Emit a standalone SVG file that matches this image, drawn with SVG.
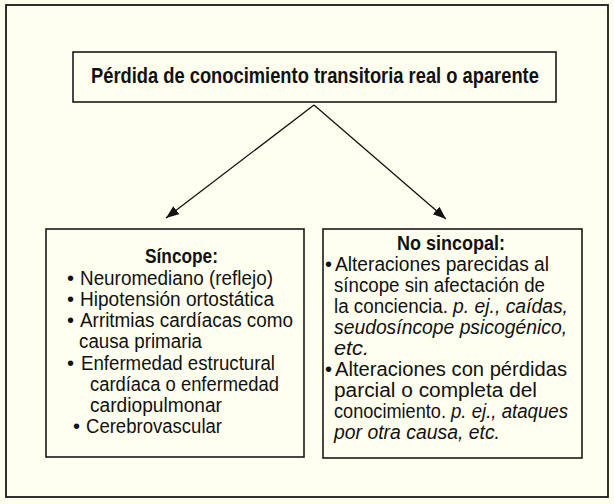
<svg xmlns="http://www.w3.org/2000/svg" width="614" height="504" viewBox="0 0 614 504">
<style>
  .box { fill: #FFFFF0; stroke: #1a1a1a; stroke-width: 1.6; }
  .t { font-family: "Liberation Sans", Arial, sans-serif; font-size: 20px; fill: #111; }
  .b { font-family: "Liberation Sans", Arial, sans-serif; font-weight: bold; fill: #111; }
  .i { font-style: italic; }
  .conn { stroke: #111; stroke-width: 1.3; fill: none; }
</style>
<defs>
  <marker id="arr" markerUnits="userSpaceOnUse" markerWidth="14" markerHeight="12" refX="13" refY="5" orient="auto">
    <path d="M0,0 L13,5 L0,10 Z" fill="#111"/>
  </marker>
</defs>
<rect x="0" y="0" width="614" height="504" fill="#FFFFF0"/>
<rect x="6" y="5" width="602" height="492" fill="none" stroke="#1a1a1a" stroke-width="1.8"/>

<g id="connectors">
  <path class="conn" d="M314,105 L166,218" marker-end="url(#arr)"/>
  <path class="conn" d="M314,105 L446,219" marker-end="url(#arr)"/>
</g>

<g id="root">
  <rect class="box" x="73" y="52" width="483" height="50"/>
  <text class="b" transform="translate(91,83) scale(0.797,1)" x="0" y="0" font-size="23" textLength="562" lengthAdjust="spacingAndGlyphs">Pérdida de conocimiento transitoria real o aparente</text>
</g>

<g id="sincope">
  <rect class="box" x="46" y="229" width="258" height="228"/>
  <text class="b" x="145" y="263" font-size="20.5" textLength="73" lengthAdjust="spacingAndGlyphs">Síncope:</text>
  <text class="t" x="67" y="284.5">•</text>
  <text class="t" x="80" y="284.5" textLength="193" lengthAdjust="spacingAndGlyphs">Neuromediano (reflejo)</text>
  <text class="t" x="67" y="305.5">•</text>
  <text class="t" x="80" y="305.5" textLength="194" lengthAdjust="spacingAndGlyphs">Hipotensión ortostática</text>
  <text class="t" x="67" y="327">•</text>
  <text class="t" x="80" y="327" textLength="213" lengthAdjust="spacingAndGlyphs">Arritmias cardíacas como</text>
  <text class="t" x="79" y="348" textLength="123" lengthAdjust="spacingAndGlyphs">causa primaria</text>
  <text class="t" x="67" y="369.5">•</text>
  <text class="t" x="81" y="369.5" textLength="194" lengthAdjust="spacingAndGlyphs">Enfermedad estructural</text>
  <text class="t" x="90" y="390.5" textLength="189" lengthAdjust="spacingAndGlyphs">cardíaca o enfermedad</text>
  <text class="t" x="90" y="412" textLength="132" lengthAdjust="spacingAndGlyphs">cardiopulmonar</text>
  <text class="t" x="73" y="433">•</text>
  <text class="t" x="86" y="433" textLength="136" lengthAdjust="spacingAndGlyphs">Cerebrovascular</text>
</g>

<g id="no-sincopal">
  <rect class="box" x="323" y="229" width="259" height="229"/>
  <text class="b" x="397" y="250" font-size="20.5" textLength="108" lengthAdjust="spacingAndGlyphs">No sincopal:</text>
  <text class="t" x="325" y="271">•</text>
  <text class="t" x="335" y="271" textLength="214" lengthAdjust="spacingAndGlyphs">Alteraciones parecidas al</text>
  <text class="t" x="334" y="292" textLength="211" lengthAdjust="spacingAndGlyphs">síncope sin afectación de</text>
  <text class="t" x="334" y="313" textLength="114" lengthAdjust="spacingAndGlyphs">la conciencia.</text>
  <text class="t i" x="453" y="313" textLength="115" lengthAdjust="spacingAndGlyphs">p. ej., caídas,</text>
  <text class="t i" x="334" y="334" textLength="233" lengthAdjust="spacingAndGlyphs">seudosíncope psicogénico,</text>
  <text class="t i" x="334" y="355" textLength="35" lengthAdjust="spacingAndGlyphs">etc.</text>
  <text class="t" x="325" y="376">•</text>
  <text class="t" x="335" y="376" textLength="232" lengthAdjust="spacingAndGlyphs">Alteraciones con pérdidas</text>
  <text class="t" x="334" y="397" textLength="203" lengthAdjust="spacingAndGlyphs">parcial o completa del</text>
  <text class="t" x="334" y="418" textLength="112" lengthAdjust="spacingAndGlyphs">conocimiento.</text>
  <text class="t i" x="451" y="418" textLength="117" lengthAdjust="spacingAndGlyphs">p. ej., ataques</text>
  <text class="t i" x="334" y="439" textLength="166" lengthAdjust="spacingAndGlyphs">por otra causa, etc.</text>
</g>
</svg>
